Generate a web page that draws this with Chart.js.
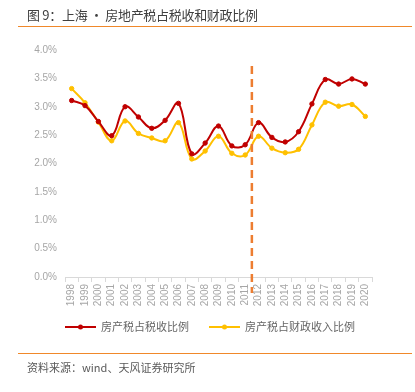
<!DOCTYPE html>
<html>
<head>
<meta charset="utf-8">
<script src="https://cdn.jsdelivr.net/npm/chart.js@4"></script>
<style>
  body { margin: 0; background: #fff; }
  #wrap { position: relative; width: 415px; height: 392px; }
  #title { position: absolute; left: 27px; top: 5px; font: 13px "Noto Sans CJK SC", sans-serif; color: #404040; white-space: nowrap; letter-spacing: -0.3px; }
  #source { position: absolute; left: 27px; top: 359px; font: 11px "Noto Sans CJK SC", sans-serif; color: #595959; white-space: nowrap; }
  .rule { position: absolute; left: 18px; width: 394px; height: 0; border-top: 1.5px solid #F0882A; }
  canvas { position: absolute; left: 0; top: 0; }
</style>
</head>
<body>
<div id="wrap">
  <canvas id="myChart" width="415" height="392"></canvas>
  <div id="title">图 9：上海 · 房地产税占税收和财政比例</div>
  <div class="rule" style="top:26px"></div>
  <div class="rule" style="top:353px"></div>
  <div id="source">资料来源：wind、天风证券研究所</div>
</div>
<script>
const anni = ['1998','1999','2000','2001','2002','2003','2004','2005','2006','2007','2008','2009','2010','2011','2012','2013','2014','2015','2016','2017','2018','2019','2020'];
const quotaTasse = [3.11,3.02,2.74,2.49,3.00,2.82,2.62,2.76,3.06,2.17,2.36,2.66,2.31,2.33,2.72,2.46,2.38,2.56,3.05,3.48,3.40,3.49,3.40];
const quotaEntrate = [3.32,3.07,2.73,2.40,2.75,2.53,2.45,2.40,2.72,2.08,2.22,2.48,2.18,2.15,2.48,2.27,2.19,2.25,2.68,3.08,3.01,3.04,2.83];
const nomiSerie = ['房产税占税收比例', '房产税占财政收入比例'];
const colori = ['#C00000', '#FFC000'];
const annoSeparatore = 13; // linea tratteggiata tra 2011 e 2012

const ctx = document.getElementById('myChart');

const lineaTratteggiata = {
  id: 'lineaTratteggiata',
  afterDatasetsDraw(chart) {
    const x = chart.scales.x;
    const c = chart.ctx;
    const px = (x.getPixelForValue(annoSeparatore) + x.getPixelForValue(annoSeparatore + 1)) / 2;
    c.save();
    c.strokeStyle = '#ED7D31';
    c.lineWidth = 2.5;
    c.setLineDash([8, 5]);
    c.beginPath();
    c.moveTo(px, chart.chartArea.top + 16);
    c.lineTo(px, chart.chartArea.bottom + 16);
    c.stroke();
    c.restore();
  }
};

const legenda = {
  id: 'legenda',
  afterDraw(chart) {
    const c = chart.ctx;
    const y = 327;
    const pos = [65, 209];
    c.save();
    c.font = '11px "Noto Sans CJK SC", sans-serif';
    c.textBaseline = 'middle';
    for (let i = 0; i < nomiSerie.length; i++) {
      c.strokeStyle = colori[i];
      c.fillStyle = colori[i];
      c.lineWidth = 2;
      c.beginPath();
      c.moveTo(pos[i], y);
      c.lineTo(pos[i] + 31, y);
      c.stroke();
      c.beginPath();
      c.arc(pos[i] + 15.5, y, 2.5, 0, Math.PI * 2);
      c.fill();
      c.fillStyle = '#666666';
      c.fillText(nomiSerie[i], pos[i] + 36, y);
    }
    c.restore();
  }
};

new Chart(ctx, {
  type: 'line',
  data: {
    labels: anni,
    datasets: [{
      label: nomiSerie[0],
      data: quotaTasse,
      borderColor: colori[0],
      backgroundColor: colori[0],
      borderWidth: 2,
      pointRadius: 2.2,
      pointBorderWidth: 1,
      tension: 0.4
    }, {
      label: nomiSerie[1],
      data: quotaEntrate,
      borderColor: colori[1],
      backgroundColor: colori[1],
      borderWidth: 2,
      pointRadius: 2.2,
      pointBorderWidth: 1,
      tension: 0.4
    }]
  },
  plugins: [lineaTratteggiata, legenda],
  options: {
    responsive: false,
    animation: false,
    layout: { padding: { left: 10, top: 50, right: 43, bottom: 80 } },
    plugins: {
      legend: { display: false },
      tooltip: { enabled: false }
    },
    scales: {
      y: {
        min: 0,
        max: 4,
        afterFit(scale) { scale.width = 55; },
        border: { display: false },
        grid: { display: false, drawTicks: false },
        ticks: {
          stepSize: 0.5,
          padding: 8,
          color: '#a6a6a6',
          font: { size: 10, family: 'Liberation Sans' },
          callback: v => v.toFixed(1) + '%'
        }
      },
      x: {
        offset: true,
        afterFit(scale) { scale.height = 35; },
        border: { display: true, color: '#d9d9d9' },
        grid: { drawOnChartArea: false, drawTicks: true, tickLength: 5, color: '#d9d9d9', offset: true },
        ticks: {
          autoSkip: false,
          minRotation: 90,
          maxRotation: 90,
          padding: 2,
          color: '#a6a6a6',
          font: { size: 10, family: 'Liberation Sans' }
        }
      }
    }
  }
});
</script>
</body>
</html>
